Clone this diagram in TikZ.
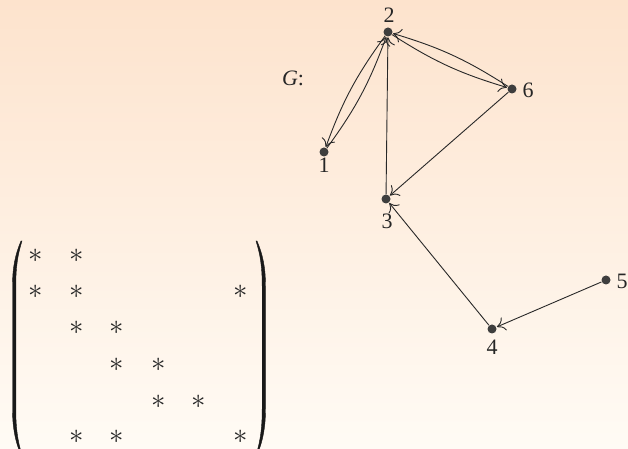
\documentclass[tikz,border=0pt]{standalone}
\usepackage{fontspec}
\setmainfont{Liberation Serif}
\usetikzlibrary{arrows.meta}
\definecolor{bgtop}{RGB}{253,227,205}
\definecolor{bgbot}{RGB}{255,251,245}
\definecolor{dotc}{RGB}{62,62,62}
\definecolor{linec}{RGB}{40,40,40}
\begin{document}
\begin{tikzpicture}[x=0.5pt,y=-0.5pt,
  vtx/.style={circle,fill=dotc,inner sep=0pt,minimum size=4.5pt},
  lbl/.style={inner sep=0pt,font=\fontsize{11}{13}\selectfont,text=black!85},
  edge/.style={draw=linec,line width=0.45pt,-{To[length=4pt,width=7pt]},shorten >=0.2pt},
  ent/.style={inner sep=0pt,font=\fontsize{14}{16}\selectfont,text=black!85},
  parfill/.style={fill=black!90,draw=black!90,line width=0.2pt}]
\clip (0,0) rectangle (628,449);
\useasboundingbox (0,0) rectangle (628,449);
\shade[top color=bgtop,bottom color=bgbot] (0,0) rectangle (628,449);
% graph
\node[vtx] (v1) at (324,152) {};
\node[vtx] (v2) at (388,32) {};
\node[vtx] (v3) at (386,199) {};
\node[vtx] (v4) at (492,329) {};
\node[vtx] (v5) at (606,280) {};
\node[vtx] (v6) at (512,89) {};
\node[lbl] (l1) at (324,165) {1};
\node[lbl] (l2) at (389,15) {2};
\node[lbl] (l3) at (387,221) {3};
\node[lbl] (l4) at (492,347) {4};
\node[lbl] (l5) at (622,281) {5};
\node[lbl] (l6) at (528,90) {6};
\node[lbl] (g) at (293,78) {\textit{G}:};
\draw[edge] (v2) to[bend right=8] (v1);
\draw[edge] (v1) to[bend right=8] (v2);
\draw[edge] (v2) to[bend right=8] (v6);
\draw[edge] (v6) to[bend right=8] (v2);
\draw[edge] (v3) -- (v2);
\draw[edge] (v6) -- (v3);
\draw[edge] (v4) -- (v3);
\draw[edge] (v5) -- (v4);
% matrix parentheses
\path[parfill] (21,241) .. controls (15,255) and (12.5,268) .. (12.5,286) -- (12.5,409)
  .. controls (12.5,427) and (15,441) .. (21,455)
  -- (22,455) .. controls (17.5,441) and (15.8,427) .. (15.8,409) -- (15.8,286)
  .. controls (15.8,268) and (17.5,255) .. (22,241) -- cycle;
\path[parfill] (257,241) .. controls (263,255) and (265.5,268) .. (265.5,286) -- (265.5,409)
  .. controls (265.5,427) and (263,441) .. (257,455)
  -- (256,455) .. controls (260.5,441) and (262.2,427) .. (262.2,409) -- (262.2,286)
  .. controls (262.2,268) and (260.5,255) .. (256,241) -- cycle;
% matrix entries
\node[ent] (a11) at (36,256) {$\ast$};
\node[ent] (a12) at (77,256) {$\ast$};
\node[ent] (a21) at (36,292) {$\ast$};
\node[ent] (a22) at (77,292) {$\ast$};
\node[ent] (a26) at (241,292) {$\ast$};
\node[ent] (a32) at (77,328) {$\ast$};
\node[ent] (a33) at (117,328) {$\ast$};
\node[ent] (a43) at (117,365) {$\ast$};
\node[ent] (a44) at (159,365) {$\ast$};
\node[ent] (a54) at (159,402) {$\ast$};
\node[ent] (a55) at (199,402) {$\ast$};
\node[ent] (a62) at (77,437) {$\ast$};
\node[ent] (a63) at (117,437) {$\ast$};
\node[ent] (a66) at (241,437) {$\ast$};
\end{tikzpicture}
\end{document}
